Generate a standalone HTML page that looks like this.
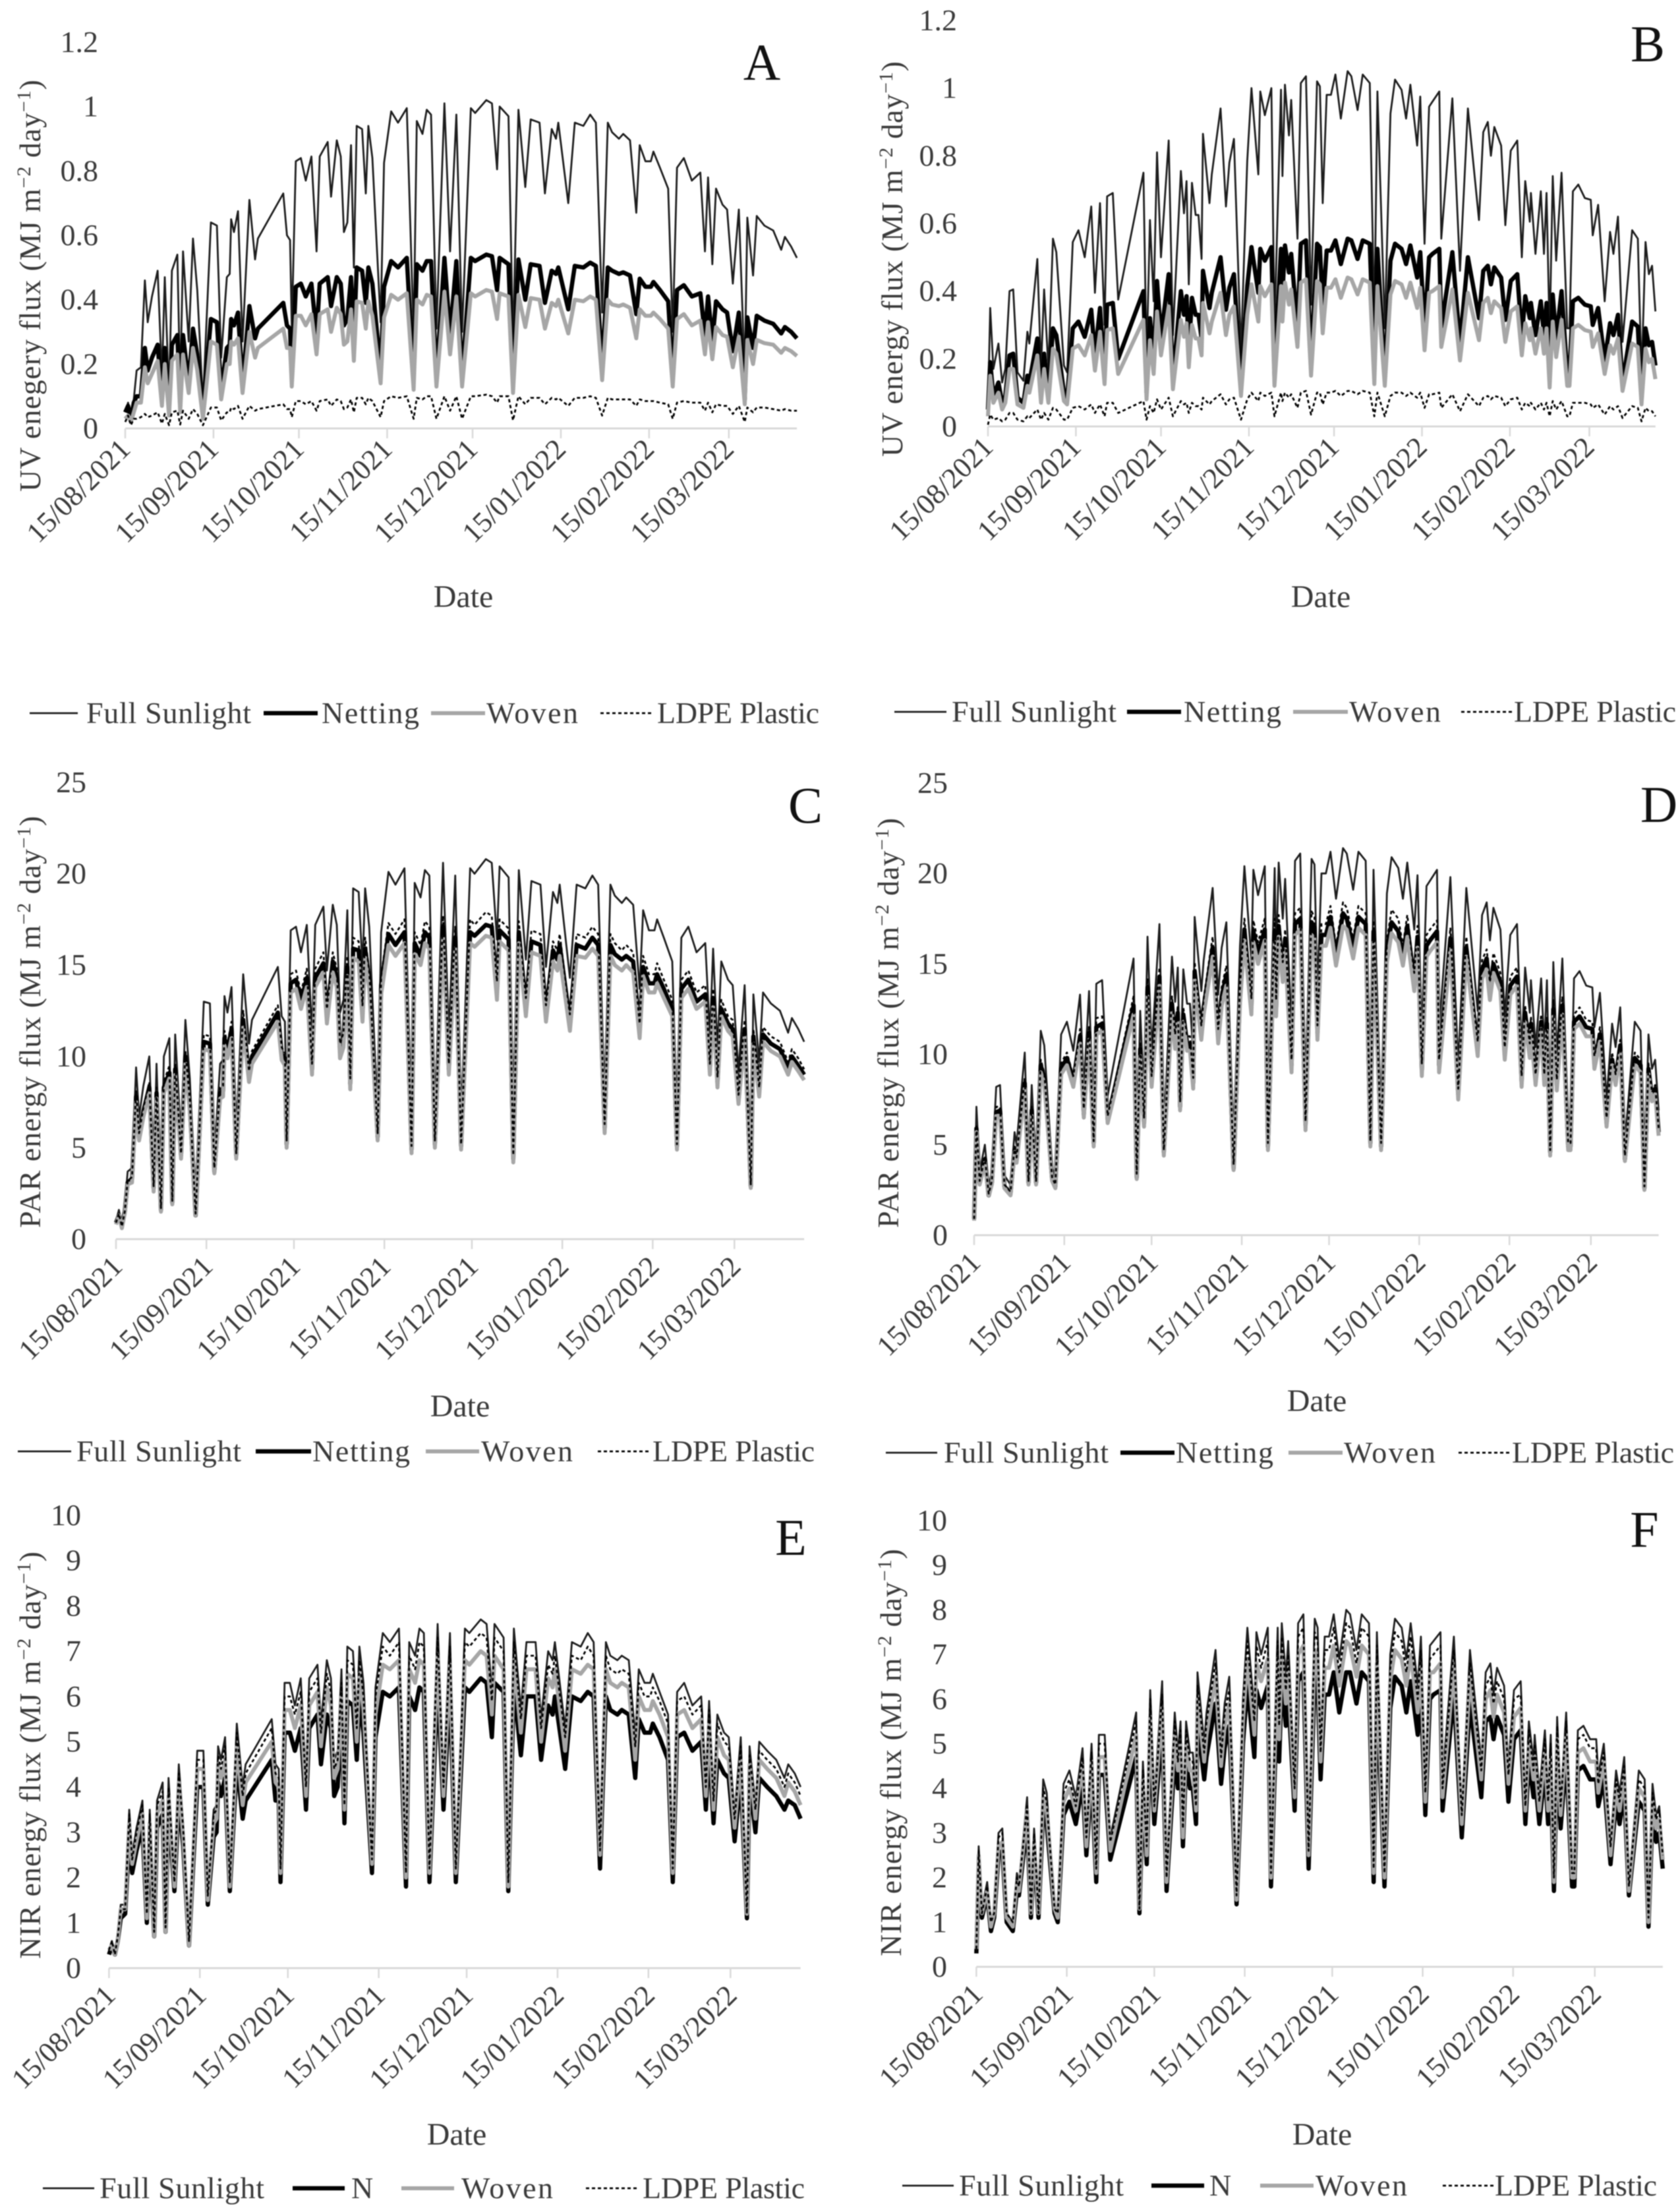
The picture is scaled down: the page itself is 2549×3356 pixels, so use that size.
<!DOCTYPE html>
<html lang="en">
<head>
<meta charset="utf-8">
<title>UV, PAR and NIR energy flux under crop covers</title>
<style>
html,body{margin:0;padding:0;background:#fff;}
#figure{display:block;width:2549px;height:3356px;filter:blur(0.7px);}
text{font-family:"Liberation Serif",serif;fill:#3a3a3a;}
</style>
</head>
<body>
<svg id="figure" xmlns="http://www.w3.org/2000/svg" width="2549" height="3356" viewBox="0 0 2549 3356"></svg>
<script>
const monthTicks=["15/08/2021","15/09/2021","15/10/2021","15/11/2021","15/12/2021","15/01/2022","15/02/2022","15/03/2022"];
const monthTickDays=[0,31,61,92,122,153,184,212];
const uvTicks=[0,0.2,0.4,0.6,0.8,1,1.2];
const parTicks=[0,5,10,15,20,25];
const nirTicks=[0,1,2,3,4,5,6,7,8,9,10];

const daysSite1=[0,1,2,3,4,5.5,6.9,7.9,9.4,11.4,
12.9,13.9,15.4,16.4,18.3,19.3,20.3,22.3,23.8,25.3,
27.3,30.1,32.2,33.7,35.7,36.7,37.2,38.2,39.6,41.2,
43.6,45.6,46.6,55.5,56.8,57.9,58.5,59.9,61.7,63.4,
65.4,67.2,68.3,71.1,72.3,74.3,75.7,76.8,78,79.3,
80.3,81.3,83.2,84.5,85.4,86.8,89.7,90.9,93.4,95.8,
98.9,101.3,102.4,104.4,105.9,107.4,109.3,112.1,114.1,116.3,
118.3,121.4,122.9,126.8,128.8,130.6,131.5,134.6,136.2,138.1,
140.5,142.4,145.5,147.4,149.8,151.3,152.1,155.6,157.9,160.9,
163.3,165.3,167.5,169.5,171,173.4,174.9,177.3,179.5,180.7,
182.7,184.6,185.5,187.8,190.7,192.3,193.8,196.2,199,202,
203.6,204.7,206.2,207.5,209.8,211.4,213.4,215.5,217.6,218.5,
220.5,221.8,224.5,227.6,230.4,231.7,233.9,235.9];

const daysSite2=[0,.8,1.9,3.7,5,6.1,7.6,8.9,10.4,12.5,
13.9,14.6,17.4,18.7,19.8,21.3,22.9,24.1,26.8,27.9,
29.9,31.9,34.1,36.4,37.7,39.5,41.1,42,44,45.9,
54.8,55.9,57.1,58.4,59.6,61,63.7,65.2,68,69.1,
70,70.8,71.9,73.2,74.2,75.3,75.8,78.1,78.9,82,
83.9,85.1,86.7,89.2,91.4,92.9,95.3,96,97.6,99.9,
101,103.3,103.8,104.7,106.1,106.9,109.1,110.3,112.1,113.9,
116,117,118,119.4,120.9,122.5,124.4,126.8,128.1,130.3,
132.1,134.6,136.2,137.3,139.9,141.9,143.5,145.8,147.4,148.9,
151.3,152.4,153.9,155.5,156.7,159.1,159.8,163.7,166.4,169.2,
173.1,174.6,176.2,177.3,178.5,180.9,182.4,184.3,186.6,188.2,
189.4,191,191.4,193,194.9,196,196.9,198,199.1,200.3,
202.2,204.2,205,206.2,208.1,210.4,212.5,213.2,215.1,217.4,
219.3,220.5,222.1,223.7,227.1,229.1,230.4,231.8,233,234.1,
235.3];

/* Panel A */
const uvFullA=[.05,.08,.04,.09,.18,.19,.46,.33,.41,.49,
.16,.47,.1,.49,.54,.12,.55,.27,.59,.43,
.08,.64,.63,.22,.47,.48,.65,.61,.675,.27,
.71,.525,.59,.73,.6,.585,.31,.83,.84,.77,
.845,.55,.845,.89,.72,.895,.845,.61,.64,.88,
.5,.94,.93,.73,.94,.84,.33,.825,.985,.95,
.995,.29,.955,.915,.99,.975,.31,1.01,.55,.975,
.3,.995,.98,1.02,1.01,.805,1,.97,.26,.99,
.75,.96,.95,.73,.93,.9,.95,.7,.95,.94,
.975,.95,.36,.95,.92,.9,.915,.895,.67,.88,
.83,.83,.86,.81,.745,.3,.81,.84,.77,.795,
.55,.78,.51,.745,.695,.68,.45,.68,.17,.655,
.475,.66,.63,.615,.555,.595,.565,.53];
const uvNetA=[.05,.07,.03,.08,.1,.1,.25,.18,.22,.26,
.09,.25,.06,.26,.29,.07,.29,.14,.31,.23,
.05,.34,.33,.12,.25,.26,.34,.32,.36,.14,
.38,.28,.31,.39,.32,.31,.16,.44,.45,.41,
.45,.29,.45,.47,.38,.47,.45,.32,.34,.47,
.27,.5,.49,.39,.5,.45,.18,.44,.52,.5,
.53,.15,.51,.49,.52,.52,.16,.53,.29,.52,
.16,.53,.52,.54,.535,.43,.53,.51,.14,.525,
.4,.51,.505,.39,.49,.48,.5,.37,.505,.5,
.515,.505,.19,.5,.49,.48,.485,.475,.355,.465,
.44,.44,.455,.43,.395,.16,.43,.445,.41,.42,
.29,.41,.27,.395,.37,.36,.24,.36,.09,.345,
.25,.35,.335,.325,.295,.315,.3,.28];
const uvWovenA=[.03,.04,.02,.05,.08,.08,.19,.14,.17,.21,
.07,.2,.04,.21,.23,.05,.23,.11,.25,.18,
.03,.27,.26,.09,.2,.2,.27,.26,.28,.11,
.3,.22,.25,.31,.25,.25,.13,.35,.35,.32,
.355,.23,.355,.37,.3,.375,.355,.26,.27,.37,
.21,.395,.39,.31,.395,.35,.14,.345,.415,.4,
.42,.12,.4,.385,.415,.41,.13,.425,.23,.41,
.13,.42,.41,.43,.425,.34,.42,.41,.11,.415,
.315,.405,.4,.31,.39,.38,.4,.295,.4,.395,
.41,.4,.15,.4,.385,.38,.385,.375,.28,.37,
.35,.35,.36,.34,.31,.13,.34,.355,.32,.335,
.23,.33,.215,.315,.29,.285,.19,.285,.075,.275,
.2,.275,.265,.26,.235,.25,.24,.225];
const uvLdpeA=[.02,.04,.01,.03,.03,.035,.045,.035,.04,.05,
.015,.045,.01,.05,.055,.012,.055,.03,.06,.045,
.01,.065,.065,.025,.05,.05,.065,.06,.07,.03,
.07,.055,.06,.075,.06,.06,.035,.085,.085,.075,
.085,.055,.085,.09,.07,.09,.085,.06,.065,.09,
.05,.095,.095,.075,.095,.085,.035,.085,.1,.095,
.1,.03,.095,.09,.1,.1,.03,.1,.055,.1,
.03,.1,.1,.105,.1,.08,.1,.1,.025,.1,
.075,.095,.095,.075,.095,.09,.095,.07,.095,.095,
.1,.095,.04,.095,.09,.09,.09,.09,.07,.09,
.085,.085,.085,.08,.075,.03,.08,.085,.08,.08,
.055,.08,.05,.075,.07,.07,.045,.07,.02,.065,
.05,.065,.065,.06,.055,.06,.055,.055];

/* Panel C */
const parFullC=[1,1.6,.8,1.8,3.7,3.9,9.4,6.7,8.4,10,
3.3,9.6,2,10,11,2.4,11.2,5.5,12,8.8,
1.6,13,12.9,4.5,9.6,9.8,13.3,12.4,13.8,5.5,
14.5,10.7,12,14.9,12.2,11.9,6.3,16.9,17.1,15.7,
17.2,11.2,17.2,18.2,14.7,18.3,17.2,12.4,13.1,18,
10.2,19.2,19,14.9,19.2,17.1,6.7,16.8,20.1,19.4,
20.3,5.9,19.5,18.7,20.2,19.9,6.3,20.6,11.2,19.9,
6.1,20.3,20,20.8,20.6,16.4,20.4,19.8,5.3,20.2,
15.3,19.6,19.4,14.9,19,18.4,19.4,14.3,19.4,19.2,
19.9,19.4,7.3,19.4,18.8,18.4,18.7,18.3,13.7,18,
16.9,16.9,17.5,16.5,15.2,6.1,16.5,17.1,15.7,16.2,
11.2,15.9,10.4,15.2,14.2,13.9,9.2,13.9,3.5,13.4,
9.7,13.5,12.9,12.5,11.3,12.1,11.5,10.8];
const parNetC=[.9,1.3,.7,1.5,3.1,3.3,7.8,5.6,7,8.3,
2.8,8,1.6,8.3,9.1,2,9.3,4.6,10,7.3,
1.3,10.8,10.7,3.7,8,8.1,11,10.3,11.5,4.6,
12,8.9,10,12.4,10.1,9.9,5.2,14,14.2,13,
14.3,9.3,14.3,15.1,12.2,15.2,14.3,10.3,10.9,14.9,
8.5,15.9,15.8,12.4,15.9,14.2,5.6,13.9,16.7,16.1,
16.8,4.9,16.2,15.5,16.8,16.5,5.2,17.1,9.3,16.5,
5.1,16.8,16.6,17.2,17.1,13.6,16.9,16.4,4.4,16.8,
12.7,16.3,16.1,12.4,15.8,15.3,16.1,11.9,16.1,15.9,
16.5,16.1,6.1,16.1,15.6,15.3,15.5,15.2,11.4,14.9,
14,14,14.5,13.7,12.6,5.1,13.7,14.2,13,13.4,
9.3,13.2,8.6,12.6,11.8,11.5,7.6,11.5,2.9,11.1,
8.1,11.2,10.7,10.4,9.4,10,9.5,9];
const parWovenC=[.8,1.3,.6,1.4,3,3.1,7.5,5.4,6.7,8,
2.6,7.7,1.5,8,8.8,1.9,9,4.4,9.6,7,
1.3,10.4,10.3,3.6,7.7,7.8,10.6,9.9,11,4.4,
11.6,8.6,9.6,11.9,9.8,9.5,5,13.5,13.7,12.6,
13.8,9,13.8,14.6,11.8,14.6,13.8,9.9,10.5,14.4,
8.2,15.4,15.2,11.9,15.4,13.7,5.4,13.4,16.1,15.5,
16.2,4.7,15.6,15,16.2,15.9,5,16.5,9,15.9,
4.9,16.2,16,16.6,16.5,13.1,16.3,15.8,4.2,16.2,
12.2,15.7,15.5,11.9,15.2,14.7,15.5,11.4,15.5,15.4,
15.9,15.5,5.8,15.5,15,14.7,15,14.6,11,14.4,
13.5,13.5,14,13.2,12.2,4.9,13.2,13.7,12.6,13,
9,12.7,8.3,12.2,11.4,11.1,7.4,11.1,2.8,10.7,
7.8,10.8,10.3,10,9,9.7,9.2,8.7];
const parLdpeC=[.9,1.4,.7,1.5,3.2,3.4,8.1,5.8,7.2,8.6,
2.9,8.3,1.7,8.6,9.5,2.1,9.6,4.7,10.3,7.6,
1.4,11.2,11.1,3.9,8.3,8.4,11.4,10.7,11.9,4.7,
12.5,9.2,10.3,12.8,10.5,10.2,5.4,14.5,14.7,13.5,
14.8,9.6,14.8,15.7,12.6,15.7,14.8,10.7,11.3,15.5,
8.8,16.5,16.3,12.8,16.5,14.7,5.8,14.4,17.3,16.7,
17.5,5.1,16.8,16.1,17.4,17.1,5.4,17.7,9.6,17.1,
5.2,17.5,17.2,17.9,17.7,14.1,17.5,17,4.6,17.4,
13.2,16.9,16.7,12.8,16.3,15.8,16.7,12.3,16.7,16.5,
17.1,16.7,6.3,16.7,16.2,15.8,16.1,15.7,11.8,15.5,
14.5,14.5,15.1,14.2,13.1,5.2,14.2,14.7,13.5,13.9,
9.6,13.7,8.9,13.1,12.2,12,7.9,12,3,11.5,
8.3,11.6,11.1,10.8,9.7,10.4,9.9,9.3];

/* Panel E */
const nirFullE=[.4,.6,.3,.7,1.4,1.4,3.5,2.5,3.1,3.7,
1.2,3.5,.8,3.7,4.1,.9,4.2,2,4.5,3.2,
.6,4.8,4.8,1.7,3.5,3.6,4.9,4.6,5.1,2,
5.4,4,4.5,5.5,4.5,4.4,2.3,6.3,6.3,5.8,
6.4,4.2,6.4,6.7,5.4,6.8,6.4,4.6,4.8,6.6,
3.8,7.1,7,5.5,7.1,6.3,2.5,6.2,7.4,7.2,
7.5,2.2,7.2,6.9,7.5,7.4,2.3,7.6,4.2,7.4,
2.3,7.5,7.4,7.7,7.6,6.1,7.6,7.3,2,7.5,
5.7,7.2,7.2,5.5,7,6.8,7.2,5.3,7.2,7.1,
7.4,7.2,2.7,7.2,6.9,6.8,6.9,6.8,5.1,6.6,
6.3,6.3,6.5,6.1,5.6,2.3,6.1,6.3,5.8,6,
4.2,5.9,3.9,5.6,5.2,5.1,3.4,5.1,1.3,4.9,
3.6,5,4.8,4.6,4.2,4.5,4.3,4];
const nirNetE=[.3,.5,.3,.6,1.1,1.2,2.9,2.1,2.6,3.1,
1,2.9,.7,3.1,3.4,.8,3.5,1.7,3.7,2.7,
.5,4,4,1.4,2.9,3,4.1,3.8,4.2,1.7,
4.5,3.3,3.7,4.6,3.7,3.7,1.9,5.2,5.2,4.8,
5.3,3.5,5.3,5.6,4.5,5.6,5.3,3.8,4,5.5,
3.2,5.9,5.8,4.6,5.9,5.2,2.1,5.1,6.1,6,
6.2,1.8,6,5.7,6.2,6.1,1.9,6.3,3.5,6.1,
1.9,6.2,6.1,6.4,6.3,5.1,6.3,6.1,1.7,6.2,
4.7,6,6,4.6,5.8,5.6,6,4.4,6,5.9,
6.1,6,2.2,6,5.7,5.6,5.7,5.6,4.2,5.5,
5.2,5.2,5.4,5.1,4.6,1.9,5.1,5.2,4.8,5,
3.5,4.9,3.2,4.6,4.3,4.2,2.8,4.2,1.1,4.1,
3,4.2,4,3.8,3.5,3.7,3.6,3.3];
const nirWovenE=[.4,.5,.3,.6,1.3,1.3,3.2,2.3,2.8,3.4,
1.1,3.2,.7,3.4,3.7,.8,3.8,1.8,4.1,2.9,
.5,4.4,4.4,1.5,3.2,3.3,4.5,4.2,4.6,1.8,
4.9,3.6,4.1,5,4.1,4,2.1,5.7,5.7,5.3,
5.8,3.8,5.8,6.1,4.9,6.2,5.8,4.2,4.4,6,
3.5,6.5,6.4,5,6.5,5.7,2.3,5.6,6.7,6.6,
6.8,2,6.6,6.3,6.8,6.7,2.1,6.9,3.8,6.7,
2.1,6.8,6.7,7,6.9,5.6,6.9,6.6,1.8,6.8,
5.2,6.6,6.6,5,6.4,6.2,6.6,4.8,6.6,6.5,
6.7,6.6,2.5,6.6,6.3,6.2,6.3,6.2,4.6,6,
5.7,5.7,5.9,5.6,5.1,2.1,5.6,5.7,5.3,5.5,
3.8,5.4,3.5,5.1,4.7,4.6,3.1,4.6,1.2,4.5,
3.3,4.6,4.4,4.2,3.8,4.1,3.9,3.6];
const nirLdpeE=[.4,.6,.3,.7,1.3,1.3,3.4,2.4,3,3.6,
1.2,3.4,.8,3.6,3.9,.9,4,1.9,4.3,3.1,
.6,4.6,4.6,1.6,3.4,3.5,4.7,4.4,4.9,1.9,
5.2,3.8,4.3,5.3,4.3,4.2,2.2,6,6,5.6,
6.1,4,6.1,6.4,5.2,6.5,6.1,4.4,4.6,6.3,
3.6,6.8,6.7,5.3,6.8,6,2.4,6,7.1,6.9,
7.2,2.1,6.9,6.6,7.2,7.1,2.2,7.3,4,7.1,
2.2,7.2,7.1,7.4,7.3,5.9,7.3,7,1.9,7.2,
5.5,6.9,6.9,5.3,6.7,6.5,6.9,5.1,6.9,6.8,
7.1,6.9,2.6,6.9,6.6,6.5,6.6,6.5,4.9,6.3,
6,6,6.2,5.9,5.4,2.2,5.9,6,5.6,5.8,
4,5.7,3.7,5.4,5,4.9,3.3,4.9,1.2,4.7,
3.5,4.8,4.6,4.4,4,4.3,4.1,3.8];

/* Panel B */
const uvFullB=[.05,.35,.17,.245,.13,.17,.4,.405,.16,.135,
.28,.245,.495,.17,.405,.17,.555,.515,.18,.16,
.545,.58,.5,.65,.395,.66,.3,.68,.69,.375,
.75,.19,.61,.37,.81,.5,.845,.27,.755,.63,
.725,.42,.72,.625,.625,.495,.865,.66,.745,.94,
.65,.78,.85,.22,.785,1,.745,.99,.92,1,
.29,.995,.74,1.01,.86,.965,.555,1.015,1.035,.36,
1.02,1.005,.66,.98,.98,1.04,.91,1.05,1.035,.935,
1.04,1.015,.3,.99,.29,.925,1.025,.995,.91,1.01,
.83,.975,.54,.945,.96,.99,.555,.97,.46,.94,
.61,.87,.9,.8,.885,.83,.595,.815,.845,.5,
.725,.605,.69,.51,.695,.51,.69,.27,.74,.49,
.75,.29,.29,.695,.715,.675,.67,.565,.655,.37,
.575,.51,.62,.25,.58,.555,.15,.545,.45,.475,
.34];
const uvNetB=[.05,.19,.09,.13,.07,.09,.21,.215,.085,.07,
.15,.13,.26,.09,.215,.09,.29,.27,.1,.085,
.29,.31,.265,.345,.21,.35,.16,.36,.365,.2,
.4,.1,.32,.2,.43,.265,.45,.14,.4,.33,
.385,.22,.38,.33,.33,.26,.46,.35,.395,.5,
.345,.41,.45,.12,.415,.53,.395,.525,.49,.53,
.15,.525,.39,.535,.455,.51,.295,.54,.55,.19,
.54,.53,.35,.52,.52,.55,.48,.555,.55,.495,
.55,.54,.16,.525,.15,.49,.54,.525,.48,.535,
.44,.515,.285,.5,.51,.525,.295,.515,.245,.5,
.32,.46,.475,.42,.47,.44,.315,.43,.45,.265,
.385,.32,.365,.27,.37,.27,.365,.14,.39,.26,
.4,.155,.155,.37,.38,.36,.355,.3,.35,.195,
.305,.27,.33,.13,.31,.295,.08,.29,.24,.25,
.18];
const uvWovenB=[.03,.15,.07,.1,.05,.07,.17,.17,.065,.055,
.12,.1,.21,.07,.17,.07,.23,.215,.075,.065,
.23,.24,.21,.27,.165,.28,.125,.285,.29,.155,
.315,.08,.255,.155,.34,.21,.355,.11,.315,.265,
.305,.175,.3,.26,.26,.21,.365,.275,.31,.395,
.27,.33,.355,.09,.33,.42,.31,.415,.385,.42,
.12,.415,.31,.425,.36,.405,.235,.425,.435,.15,
.43,.42,.275,.41,.41,.435,.38,.44,.435,.39,
.435,.425,.125,.415,.12,.39,.43,.42,.38,.425,
.35,.41,.225,.395,.4,.415,.235,.405,.195,.395,
.255,.365,.38,.335,.37,.35,.25,.34,.355,.21,
.305,.255,.29,.215,.29,.215,.29,.115,.31,.205,
.315,.12,.12,.29,.3,.285,.28,.235,.275,.155,
.24,.215,.26,.105,.245,.235,.065,.23,.19,.2,
.14];
const uvLdpeB=[.005,.035,.02,.025,.015,.02,.04,.04,.02,.015,
.03,.025,.05,.02,.04,.02,.055,.05,.02,.02,
.055,.06,.05,.065,.04,.065,.03,.07,.07,.04,
.075,.02,.06,.04,.08,.05,.085,.03,.075,.065,
.07,.04,.07,.06,.06,.05,.085,.065,.075,.095,
.065,.08,.085,.02,.08,.1,.075,.1,.09,.1,
.03,.1,.075,.1,.085,.095,.055,.1,.105,.035,
.1,.1,.065,.1,.1,.105,.09,.105,.105,.095,
.105,.1,.03,.1,.03,.09,.1,.1,.09,.1,
.085,.1,.055,.095,.095,.1,.055,.095,.045,.095,
.06,.085,.09,.08,.09,.085,.06,.08,.085,.05,
.07,.06,.07,.05,.07,.05,.07,.03,.075,.05,
.075,.03,.03,.07,.07,.07,.065,.055,.065,.035,
.06,.05,.06,.025,.06,.055,.015,.055,.045,.045,
.03];

/* Panel D */
const parFullD=[1,7.1,3.5,5,2.7,3.5,8.2,8.3,3.3,2.8,
5.7,5,10.1,3.5,8.3,3.5,11.3,10.5,3.7,3.3,
11.1,11.8,10.2,13.3,8.1,13.5,6.1,13.9,14.1,7.7,
15.3,3.9,12.4,7.5,16.5,10.2,17.2,5.5,15.4,12.9,
14.8,8.6,14.7,12.8,12.8,10.1,17.6,13.5,15.2,19.2,
13.3,15.9,17.3,4.5,16,20.4,15.2,20.2,18.8,20.4,
5.9,20.3,15.1,20.6,17.5,19.7,11.3,20.7,21.1,7.3,
20.8,20.5,13.5,20,20,21.2,18.6,21.4,21.1,19.1,
21.2,20.7,6.1,20.2,5.9,18.9,20.9,20.3,18.6,20.6,
16.9,19.9,11,19.3,19.6,20.2,11.3,19.8,9.4,19.2,
12.4,17.7,18.4,16.3,18.1,16.9,12.1,16.6,17.2,10.2,
14.8,12.3,14.1,10.4,14.2,10.4,14.1,5.5,15.1,10,
15.3,5.9,5.9,14.2,14.6,13.8,13.7,11.5,13.4,7.5,
11.7,10.4,12.6,5.1,11.8,11.3,3.1,11.1,9.2,9.7,
6.9];
const parNetD=[.9,5.9,2.9,4.2,2.2,2.9,6.8,6.9,2.7,2.3,
4.7,4.2,8.4,2.9,6.9,2.9,9.4,8.7,3.1,2.7,
9.2,9.8,8.5,11,6.7,11.2,5.1,11.5,11.7,6.4,
12.7,3.2,10.3,6.2,13.7,8.5,14.3,4.6,12.8,10.7,
12.3,7.1,12.2,10.6,10.6,8.4,14.6,11.2,12.6,15.9,
11,13.2,14.4,3.7,13.3,16.9,12.6,16.8,15.6,16.9,
4.9,16.8,12.5,17.1,14.5,16.4,9.4,17.2,17.5,6.1,
17.3,17,11.2,16.6,16.6,17.6,15.4,17.8,17.5,15.9,
17.6,17.2,5.1,16.8,4.9,15.7,17.3,16.8,15.4,17.1,
14,16.5,9.1,16,16.3,16.8,9.4,16.4,7.8,15.9,
10.3,14.7,15.3,13.5,15,14,10,13.8,14.3,8.5,
12.3,10.2,11.7,8.6,11.8,8.6,11.7,4.6,12.5,8.3,
12.7,4.9,4.9,11.8,12.1,11.5,11.4,9.5,11.1,6.2,
9.7,8.6,10.5,4.2,9.8,9.4,2.6,9.2,7.6,8.1,
5.7];
const parWovenD=[.8,5.7,2.8,4,2.2,2.8,6.6,6.6,2.6,2.2,
4.6,4,8.1,2.8,6.6,2.8,9,8.4,3,2.6,
8.9,9.4,8.2,10.6,6.5,10.8,4.9,11.1,11.3,6.2,
12.2,3.1,9.9,6,13.2,8.2,13.8,4.4,12.3,10.3,
11.8,6.9,11.8,10.2,10.2,8.1,14.1,10.8,12.2,15.4,
10.6,12.7,13.8,3.6,12.8,16.3,12.2,16.2,15,16.3,
4.7,16.2,12.1,16.5,14,15.8,9,16.6,16.9,5.8,
16.6,16.4,10.8,16,16,17,14.9,17.1,16.9,15.3,
17,16.6,4.9,16.2,4.7,15.1,16.7,16.2,14.9,16.5,
13.5,15.9,8.8,15.4,15.7,16.2,9,15.8,7.5,15.4,
9.9,14.2,14.7,13,14.5,13.5,9.7,13.3,13.8,8.2,
11.8,9.8,11.3,8.3,11.4,8.3,11.3,4.4,12.1,8,
12.2,4.7,4.7,11.4,11.7,11,11,9.2,10.7,6,
9.4,8.3,10.1,4.1,9.4,9,2.5,8.9,7.4,7.8,
5.5];
const parLdpeD=[.9,6.1,3,4.3,2.3,3,7.1,7.1,2.8,2.4,
4.9,4.3,8.7,3,7.1,3,9.7,9,3.2,2.8,
9.5,10.1,8.8,11.4,7,11.6,5.2,12,12.1,6.6,
13.2,3.4,10.7,6.5,14.2,8.8,14.8,4.7,13.2,11.1,
12.7,7.4,12.6,11,11,8.7,15.1,11.6,13.1,16.5,
11.4,13.7,14.9,3.9,13.8,17.5,13.1,17.4,16.2,17.5,
5.1,17.5,13,17.7,15.1,16.9,9.7,17.8,18.1,6.3,
17.9,17.6,11.6,17.2,17.2,18.2,16,18.4,18.1,16.4,
18.2,17.8,5.2,17.4,5.1,16.3,18,17.5,16,17.7,
14.5,17.1,9.5,16.6,16.9,17.4,9.7,17,8.1,16.5,
10.7,15.2,15.8,14,15.6,14.5,10.4,14.3,14.8,8.8,
12.7,10.6,12.1,8.9,12.2,8.9,12.1,4.7,13,8.6,
13.2,5.1,5.1,12.2,12.6,11.9,11.8,9.9,11.5,6.5,
10.1,8.9,10.8,4.4,10.1,9.7,2.7,9.5,7.9,8.3,
5.9];

/* Panel F */
const nirFullF=[.4,2.7,1.3,1.9,1,1.3,3,3.1,1.2,1,
2.1,1.9,3.8,1.3,3.1,1.3,4.2,3.9,1.4,1.2,
4.1,4.4,3.8,4.9,3,5,2.3,5.2,5.2,2.9,
5.7,1.4,4.6,2.8,6.2,3.8,6.4,2.1,5.7,4.8,
5.5,3.2,5.5,4.8,4.8,3.8,6.6,5,5.7,7.1,
4.9,5.9,6.5,1.7,6,7.6,5.7,7.5,7,7.6,
2.2,7.6,5.6,7.7,6.5,7.3,4.2,7.7,7.9,2.7,
7.8,7.6,5,7.4,7.4,7.9,6.9,8,7.9,7.1,
7.9,7.7,2.3,7.5,2.2,7,7.8,7.6,6.9,7.7,
6.3,7.4,4.1,7.2,7.3,7.5,4.2,7.4,3.5,7.1,
4.6,6.6,6.8,6.1,6.7,6.3,4.5,6.2,6.4,3.8,
5.5,4.6,5.2,3.9,5.3,3.9,5.2,2.1,5.6,3.7,
5.7,2.2,2.2,5.3,5.4,5.1,5.1,4.3,5,2.8,
4.4,3.9,4.7,1.9,4.4,4.2,1.1,4.1,3.4,3.6,
2.6];
const nirNetF=[.3,2.2,1.1,1.6,.8,1.1,2.5,2.6,1,.8,
1.7,1.6,3.2,1.1,2.6,1.1,3.5,3.2,1.2,1,
3.4,3.7,3.2,4.1,2.5,4.2,1.9,4.3,4.3,2.4,
4.7,1.2,3.8,2.3,5.1,3.2,5.3,1.7,4.7,4,
4.6,2.7,4.6,4,4,3.2,5.5,4.2,4.7,5.9,
4.1,4.9,5.4,1.4,5,6.3,4.7,6.2,5.8,6.3,
1.8,6.3,4.6,6.4,5.4,6.1,3.5,6.4,6.6,2.2,
6.5,6.3,4.2,6.1,6.1,6.6,5.7,6.6,6.6,5.9,
6.6,6.4,1.9,6.2,1.8,5.8,6.5,6.3,5.7,6.4,
5.2,6.1,3.4,6,6.1,6.2,3.5,6.1,2.9,5.9,
3.8,5.5,5.6,5.1,5.6,5.2,3.7,5.1,5.3,3.2,
4.6,3.8,4.3,3.2,4.4,3.2,4.3,1.7,4.6,3.1,
4.7,1.8,1.8,4.4,4.5,4.2,4.2,3.6,4.2,2.3,
3.7,3.2,3.9,1.6,3.7,3.5,.9,3.4,2.8,3,
2.2];
const nirWovenF=[.4,2.5,1.2,1.7,.9,1.2,2.7,2.8,1.1,.9,
1.9,1.7,3.5,1.2,2.8,1.2,3.8,3.5,1.3,1.1,
3.7,4,3.5,4.5,2.7,4.6,2.1,4.7,4.7,2.6,
5.2,1.3,4.2,2.5,5.6,3.5,5.8,1.9,5.2,4.4,
5,2.9,5,4.4,4.4,3.5,6,4.6,5.2,6.5,
4.5,5.4,5.9,1.5,5.5,6.9,5.2,6.8,6.4,6.9,
2,6.9,5.1,7,5.9,6.6,3.8,7,7.2,2.5,
7.1,6.9,4.6,6.7,6.7,7.2,6.3,7.3,7.2,6.5,
7.2,7,2.1,6.8,2,6.4,7.1,6.9,6.3,7,
5.7,6.7,3.7,6.6,6.6,6.8,3.8,6.7,3.2,6.5,
4.2,6,6.2,5.6,6.1,5.7,4.1,5.6,5.8,3.5,
5,4.2,4.7,3.5,4.8,3.5,4.7,1.9,5.1,3.4,
5.2,2,2,4.8,4.9,4.6,4.6,3.9,4.6,2.5,
4,3.5,4.3,1.7,4,3.8,1,3.7,3.1,3.3,
2.4];
const nirLdpeF=[.4,2.6,1.2,1.8,1,1.2,2.9,3,1.2,1,
2,1.8,3.6,1.2,3,1.2,4,3.7,1.3,1.2,
3.9,4.2,3.6,4.7,2.9,4.8,2.2,5,5,2.8,
5.5,1.3,4.4,2.7,6,3.6,6.1,2,5.5,4.6,
5.3,3.1,5.3,4.6,4.6,3.6,6.3,4.8,5.5,6.8,
4.7,5.7,6.2,1.6,5.8,7.3,5.5,7.2,6.7,7.3,
2.1,7.3,5.4,7.4,6.2,7,4,7.4,7.6,2.6,
7.5,7.3,4.8,7.1,7.1,7.6,6.6,7.7,7.6,6.8,
7.6,7.4,2.2,7.2,2.1,6.7,7.5,7.3,6.6,7.4,
6,7.1,3.9,6.9,7,7.2,4,7.1,3.4,6.8,
4.4,6.3,6.5,5.9,6.4,6,4.3,6,6.1,3.6,
5.3,4.4,5,3.7,5.1,3.7,5,2,5.4,3.6,
5.5,2.1,2.1,5.1,5.2,4.9,4.9,4.1,4.8,2.7,
4.2,3.7,4.5,1.8,4.2,4,1.1,3.9,3.3,3.5,
2.5];

const NS="http://www.w3.org/2000/svg";
const root=document.getElementById("figure");

function mk(tag,parent,attrs,txt){
  const el=document.createElementNS(NS,tag);
  for(const k in attrs){el.setAttribute(k,attrs[k]);}
  if(txt!==undefined){el.textContent=txt;}
  parent.appendChild(el);
  return el;
}

const seriesStyles={
  full:{stroke:"#1c1c1c",w:2.8,dash:""},
  net:{stroke:"#000000",w:6.5,dash:""},
  woven:{stroke:"#a6a6a6",w:6,dash:""},
  ldpe:{stroke:"#000000",w:2.8,dash:"5 4"}
};

function drawPanel(p){
  const g=mk("g",root,{});
  
  

  const x=function(d){return p.x0+d*p.pxPerDay;};
  const y=function(v){return p.y0-(v/p.yMax)*(p.y0-p.yTop);};

  const axis=mk("line",g,{x1:p.x0,x2:x(p.endDay),y1:p.y0,y2:p.y0,stroke:"#d9d9d9","stroke-width":3});
  
  

  monthTicks.forEach(function(label,i){
    const tx=x(monthTickDays[i]);
    const tick=mk("line",g,{x1:tx,x2:tx,y1:p.y0,y2:p.y0+15,stroke:"#d9d9d9","stroke-width":2.5});
    
    
    const ax=tx+p.tickDx, ay=p.y0+p.tickDy;
    const t=mk("text",g,{x:ax,y:ay,"text-anchor":"end","font-size":44,transform:"rotate(-45 "+ax+" "+ay+")"},label);
    
    
  });

  p.yTicks.forEach(function(v){
    const t=mk("text",g,{x:p.yLabelX,y:y(v)+15,"text-anchor":"end","font-size":46},String(v));
    
    
  });

  [["full",p.full],["net",p.net],["woven",p.woven],["ldpe",p.ldpe]].forEach(function(s){
    const st=seriesStyles[s[0]];
    const pts=p.days.map(function(d,i){return x(d).toFixed(1)+","+y(s[1][i]).toFixed(1);}).join(" ");
    const attrs={points:pts,fill:"none",stroke:st.stroke,"stroke-width":st.w,"stroke-linejoin":"round"};
    if(st.dash){attrs["stroke-dasharray"]=st.dash;}
    const line=mk("polyline",g,attrs);
    
    
  });

  const letter=mk("text",g,{x:p.letterX,y:p.letterY,"text-anchor":"middle","font-size":78,style:"fill:#111"},p.letter);
  
  

  const xt=mk("text",g,{x:p.dateX,y:p.dateY,"text-anchor":"middle","font-size":48},"Date");
  
  

  const ty=(p.titleTop+p.titleBottom)/2;
  const yt=mk("text",g,{x:0,y:0,"text-anchor":"middle","font-size":46,textLength:p.titleBottom-p.titleTop,lengthAdjust:"spacing",transform:"translate("+p.titleX+" "+ty+") rotate(-90)"});
  
  
  mk("tspan",yt,{},p.title+" (MJ m");
  mk("tspan",yt,{dy:-15,"font-size":30},"\u22122");
  mk("tspan",yt,{dy:15}," day");
  mk("tspan",yt,{dy:-15,"font-size":30},"\u22121");
  mk("tspan",yt,{dy:15},")");

  const lg=mk("g",g,{});
  
  
  [["full","Full Sunlight",250],["net",p.netName,p.netName==="N"?0:148],["woven","Woven",139],["ldpe","LDPE Plastic",246]].forEach(function(e,i){
    const st=seriesStyles[e[0]];
    const pos=p.legend[i];
    const attrs={x1:pos[0],x2:pos[1],y1:p.legendY,y2:p.legendY,stroke:st.stroke,"stroke-width":st.w};
    if(st.dash){attrs["stroke-dasharray"]=st.dash;}
    const sample=mk("line",lg,attrs);
    
    
    const labAttrs={x:pos[2],y:p.legendY+15,"font-size":46};
    if(e[2]){labAttrs.textLength=e[2];labAttrs.lengthAdjust="spacing";}
    const lab=mk("text",lg,labAttrs,e[1]);
    
    
  });
}

drawPanel({letter:"A",days:daysSite1,full:uvFullA,net:uvNetA,woven:uvWovenA,ldpe:uvLdpeA,
  x0:190,pxPerDay:4.32,endDay:235.9,y0:650,yTop:64,yMax:1.2,yTicks:uvTicks,yLabelX:149,tickDx:10,tickDy:34,
  letterX:1156,letterY:121,dateX:703,dateY:921,title:"UV enegery flux",titleX:61,titleTop:121,titleBottom:746,
  netName:"Netting",legendY:1082,legend:[[45,118,131],[400,482,488],[654,736,738],[911,989,997]]});
drawPanel({letter:"B",days:daysSite2,full:uvFullB,net:uvNetB,woven:uvWovenB,ldpe:uvLdpeB,
  x0:1499,pxPerDay:4.304,endDay:235.3,y0:647,yTop:31,yMax:1.2,yTicks:uvTicks,yLabelX:1452,tickDx:10,tickDy:34,
  letterX:2500,letterY:93,dateX:2004,dateY:921,title:"UV energy flux",titleX:1369,titleTop:93,titleBottom:693,
  netName:"Netting",legendY:1080,legend:[[1357,1436,1444],[1710,1792,1796],[1962,2045,2047],[2217,2297,2297]]});
drawPanel({letter:"C",days:daysSite1,full:parFullC,net:parNetC,woven:parWovenC,ldpe:parLdpeC,
  x0:176,pxPerDay:4.426,endDay:235.9,y0:1880,yTop:1187,yMax:25,yTicks:parTicks,yLabelX:131,tickDx:12,tickDy:44,
  letterX:1222,letterY:1248,dateX:698,dateY:2149,title:"PAR energy flux",titleX:61,titleTop:1238,titleBottom:1863,
  netName:"Netting",legendY:2202,legend:[[27,108,116],[388,472,474],[646,727,730],[907,987,990]]});
drawPanel({letter:"D",days:daysSite2,full:parFullD,net:parNetD,woven:parWovenD,ldpe:parLdpeD,
  x0:1478,pxPerDay:4.414,endDay:235.3,y0:1874,yTop:1188,yMax:25,yTicks:parTicks,yLabelX:1438,tickDx:12,tickDy:44,
  letterX:2517,letterY:1247,dateX:1998,dateY:2141,title:"PAR energy flux",titleX:1363,titleTop:1241,titleBottom:1863,
  netName:"Netting",legendY:2204,legend:[[1344,1422,1432],[1700,1782,1784],[1955,2037,2039],[2213,2293,2294]]});
drawPanel({letter:"E",days:daysSite1,full:nirFullE,net:nirNetE,woven:nirWovenE,ldpe:nirLdpeE,
  x0:165.4,pxPerDay:4.448,endDay:235.9,y0:2986,yTop:2299,yMax:10,yTicks:nirTicks,yLabelX:123,tickDx:12,tickDy:44,
  letterX:1200,letterY:2359,dateX:693,dateY:3254,title:"NIR energy flux",titleX:61,titleTop:2354,titleBottom:2972,
  netName:"N",legendY:3320,legend:[[65,143,151],[444,523,533],[609,689,700],[889,967,975]]});
drawPanel({letter:"F",days:daysSite2,full:nirFullF,net:nirNetF,woven:nirWovenF,ldpe:nirLdpeF,
  x0:1481.4,pxPerDay:4.426,endDay:235.3,y0:2984,yTop:2307,yMax:10,yTicks:nirTicks,yLabelX:1437,tickDx:12,tickDy:44,
  letterX:2495,letterY:2347,dateX:2006,dateY:3254,title:"NIR energy flux",titleX:1367,titleTop:2350,titleBottom:2968,
  netName:"N",legendY:3316,legend:[[1369,1447,1455],[1747,1827,1835],[1912,1993,1996],[2189,2268,2268]]});
</script>
</body>
</html>
